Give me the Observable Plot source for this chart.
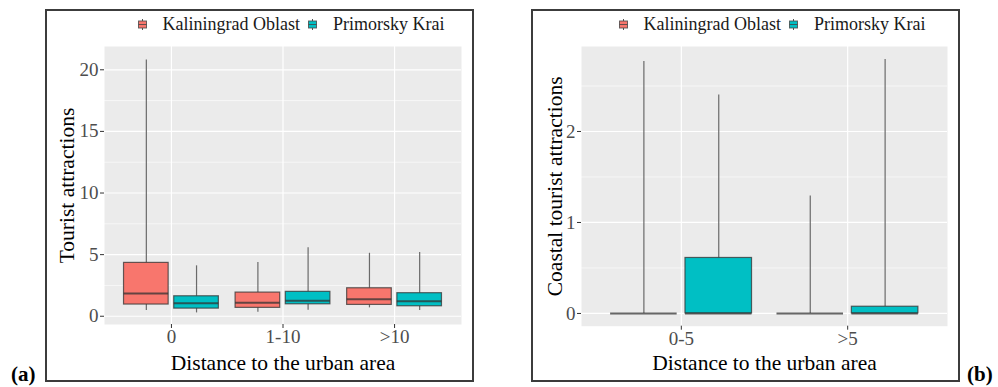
<!DOCTYPE html>
<html>
<head>
<meta charset="utf-8">
<script src="https://cdn.jsdelivr.net/npm/d3@7"></script>
<script src="https://cdn.jsdelivr.net/npm/@observablehq/plot@0.6"></script>
<style>
  html, body { margin: 0; padding: 0; background: #fff; }
  body { width: 998px; height: 387px; position: relative; overflow: hidden; font-family: "Liberation Serif", "Times New Roman", serif; }
  .panel { position: absolute; top: 9px; width: 425px; height: 369px; border: 2px solid #3c3c3c; }
  .legend { position: absolute; top: 0; height: 26px; display: flex; align-items: center; font-size: 18px; color: #1a1a1a; white-space: nowrap; }
  .legend svg { display: block; }
  .legend .sw { margin-right: 15.5px; }
  .legend .gap { margin-right: 8.5px; }
  .plot { position: absolute; top: 26px; left: 0; }
  .tag { position: absolute; font-weight: bold; font-size: 21px; line-height: 1; }
</style>
</head>
<body>
<div class="panel" id="pa" style="left:45px"><div class="legend" id="la" style="left:91px"></div><div class="plot" id="ca"></div></div>
<div class="panel" id="pb" style="left:531px"><div class="legend" id="lb" style="left:86px"></div><div class="plot" id="cb"></div></div>
<div class="tag" style="left:11px; top:364px">(a)</div>
<div class="tag" style="left:967px; top:364px">(b)</div>
<script>
// ---------- data ----------
const regions = ["Kaliningrad Oblast", "Primorsky Krai"];
const regionColors = ["#F8766D", "#00BFC4"];

// Panel (a): Tourist attractions
const catsA = ["0", "1-10", ">10"];
const aKalLow  = [0.46, 0.33, 0.68];
const aKalQ1   = [0.95, 0.68, 0.92];
const aKalMed  = [1.84, 1.09, 1.38];
const aKalQ3   = [4.33, 1.92, 2.27];
const aKalHigh = [20.8, 4.36, 5.11];
const aPriLow  = [0.27, 0.49, 0.46];
const aPriQ1   = [0.62, 0.97, 0.81];
const aPriMed  = [1.05, 1.25, 1.22];
const aPriQ3   = [1.62, 1.98, 1.87];
const aPriHigh = [4.09, 5.55, 5.17];
const ticksA = [0, 5, 10, 15, 20];
const minorA = [2.5, 7.5, 12.5, 17.5];

// Panel (b): Coastal tourist attractions
const catsB = ["0-5", ">5"];
const bKalLow  = [0, 0];
const bKalQ1   = [0, 0];
const bKalMed  = [0, 0];
const bKalQ3   = [0, 0];
const bKalHigh = [2.77, 1.29];
const bPriLow  = [0, 0];
const bPriQ1   = [0, 0];
const bPriMed  = [0, 0];
const bPriQ3   = [0.61, 0.074];
const bPriHigh = [2.40, 2.79];
const ticksB = [0, 1, 2];
const minorB = [0.5, 1.5, 2.5];

const xTitle = "Distance to the urban area";
const yTitleA = "Tourist attractions";
const yTitleB = "Coastal tourist attractions";

// ---------- helpers ----------
const DODGE = 0.225, HALF = 0.2;
function buildRows(cats, kal, pri) {
  const rows = [];
  cats.forEach((c, i) => {
    [kal, pri].forEach((s, r) => {
      const xc = (i + 1) + (r === 0 ? -DODGE : DODGE);
      rows.push({cat: c, region: regions[r], x1: xc - HALF, x2: xc + HALF, xc,
        low: s[0][i], q1: s[1][i], med: s[2][i], q3: s[3][i], high: s[4][i]});
    });
  });
  return rows;
}

const FONT = "'Liberation Serif', 'Times New Roman', serif";

function makePlot({cats, rows, yDomain, ticks, minor, yTitle, marginLeft, marginBottom, yTitleDx, xTitleDy}) {
  const xs = cats.map((_, i) => i + 1);
  return Plot.plot({
    width: 425, height: 343,
    marginTop: 9, marginBottom, marginLeft, marginRight: 11,
    x: {domain: [0.4, cats.length + 0.6]},
    y: {domain: yDomain},
    color: {domain: regions, range: regionColors},
    style: {fontFamily: FONT, background: "transparent", overflow: "visible"},
    marks: [
      Plot.frame({fill: "#EBEBEB", stroke: null}),
      Plot.gridY(minor, {stroke: "white", strokeOpacity: 1, strokeWidth: 0.6}),
      Plot.gridY(ticks, {stroke: "white", strokeOpacity: 1, strokeWidth: 1.2}),
      Plot.gridX(xs, {stroke: "white", strokeOpacity: 1, strokeWidth: 1.2}),
      Plot.axisY(ticks, {tickSize: 4, tickPadding: 2, fontSize: 19, fontFamily: FONT, fill: "#4d4d4d", stroke: "#333", label: null,
        tickFormat: d => String(d)}),
      Plot.axisX(xs, {tickSize: 4, tickPadding: 1, fontSize: 19, fontFamily: FONT, fill: "#4d4d4d", stroke: "#333", label: null,
        tickFormat: d => cats[d - 1]}),
      Plot.ruleX(rows, {x: "xc", y1: "low", y2: "q1", stroke: "#6a6a6a", strokeWidth: 1.2}),
      Plot.ruleX(rows, {x: "xc", y1: "q3", y2: "high", stroke: "#6a6a6a", strokeWidth: 1.2}),
      Plot.rect(rows, {x1: "x1", x2: "x2", y1: "q1", y2: "q3", fill: "region", stroke: "#333", strokeOpacity: 0.75, strokeWidth: 1.2}),
      Plot.ruleY(rows, {y: "med", x1: "x1", x2: "x2", stroke: "#333", strokeOpacity: 0.75, strokeWidth: 2}),
      Plot.text([yTitle], {frameAnchor: "left", textAnchor: "middle", lineAnchor: "middle", rotate: -90, dx: yTitleDx,
        fontSize: 21.5, fontFamily: FONT, fill: "black"}),
      Plot.text([xTitle], {frameAnchor: "bottom", textAnchor: "middle", lineAnchor: "middle", dy: xTitleDy,
        fontSize: 21.5, fontFamily: FONT, fill: "black"})
    ]
  });
}

function swatch(color) {
  return `<svg width="9" height="11" viewBox="0 0 9 11"><line x1="4.5" y1="0" x2="4.5" y2="11" stroke="#555" stroke-width="1"/><rect x="0.5" y="2" width="8" height="7" fill="${color}" stroke="#444" stroke-opacity="0.8" stroke-width="1"/><line x1="0.5" y1="5.5" x2="8.5" y2="5.5" stroke="#444" stroke-opacity="0.8" stroke-width="1"/></svg>`;
}
function legendHTML() {
  return `<span class="sw">${swatch(regionColors[0])}</span><span class="gap">${regions[0]}</span><span class="sw">${swatch(regionColors[1])}</span><span>${regions[1]}</span>`;
}

// ---------- render ----------
document.getElementById("la").innerHTML = legendHTML();
document.getElementById("lb").innerHTML = legendHTML();

const rowsA = buildRows(catsA, [aKalLow, aKalQ1, aKalMed, aKalQ3, aKalHigh], [aPriLow, aPriQ1, aPriMed, aPriQ3, aPriHigh]);
const rowsB = buildRows(catsB, [bKalLow, bKalQ1, bKalMed, bKalQ3, bKalHigh], [bPriLow, bPriQ1, bPriMed, bPriQ3, bPriHigh]);

document.getElementById("ca").appendChild(makePlot({
  cats: catsA, rows: rowsA, yDomain: [-0.67, 21.89], ticks: ticksA, minor: minorA,
  yTitle: yTitleA, marginLeft: 57, marginBottom: 56, yTitleDx: -37.5, xTitleDy: 39
}));
document.getElementById("cb").appendChild(makePlot({
  cats: catsB, rows: rowsB, yDomain: [-0.14, 2.934], ticks: ticksB, minor: minorB,
  yTitle: yTitleB, marginLeft: 48, marginBottom: 54.3, yTitleDx: -26.5, xTitleDy: 37.4
}));
</script>
</body>
</html>
